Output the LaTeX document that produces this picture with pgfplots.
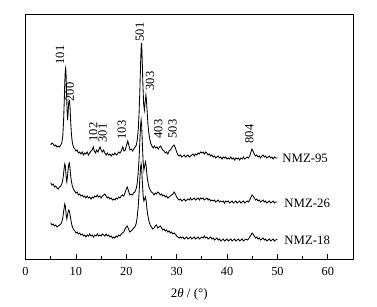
\documentclass[border=0pt]{standalone}
\usepackage{fontspec}
\setmainfont{Liberation Serif}
\usepackage{pgfplots}
\pgfplotsset{compat=1.18}
\usepackage{pgfplotstable}

\pgfplotstableread{
x y
5.0 145
5.25 143
5.5 144
5.75 146
6.0 145
6.25 147
6.5 146
6.75 147
7.0 145
7.2 143
7.4 136
7.55 122
7.7 100
7.8 82
7.9 70
7.97 68
8.05 74
8.15 92
8.25 110
8.35 120
8.45 113
8.55 104
8.65 100
8.75 101
8.85 108
8.95 120
9.1 133
9.25 141
9.4 145
9.6 148
9.8 149
10.0 151
10.25 150
10.5 153
10.75 152
11.0 154
11.25 152
11.5 155
11.75 153
12.0 154
12.25 152
12.5 155
12.75 153
13.0 151
13.25 150
13.45 147
13.65 151
13.9 153
14.15 150
14.4 152
14.6 149
14.8 147
15.0 150
15.25 152
15.5 150
15.75 153
16.0 155
16.25 153
16.5 155
16.75 154
17.0 156
17.25 154
17.5 155
17.75 153
18.0 155
18.25 154
18.5 152
18.75 153
19.0 151
19.3 147
19.55 151
19.8 150
20.05 145
20.3 141
20.5 145
20.75 150
21.0 149
21.25 151
21.5 149
21.75 147
22.0 145
22.2 139
22.4 128
22.55 112
22.7 90
22.85 62
22.95 48
23.05 43
23.15 58
23.3 85
23.45 104
23.6 110
23.75 102
23.9 95
24.0 100
24.15 112
24.3 124
24.5 134
24.7 140
24.9 144
25.1 146
25.35 148
25.6 146
25.85 148
26.1 147
26.35 149
26.6 147
26.85 146
27.0 148
27.25 150
27.5 151
27.75 153
28.0 152
28.25 154
28.5 151
28.75 150
29.0 148
29.25 146
29.5 145
29.75 148
30.0 152
30.25 155
30.5 156
30.75 155
31.0 157
31.25 156
31.5 155
31.75 157
32.0 156
32.25 155
32.5 157
32.75 156
33.0 155
33.25 154
33.5 156
33.75 154
34.0 155
34.25 153
34.5 154
34.75 152
35.0 153
35.25 152
35.5 154
35.75 152
36.0 153
36.25 155
36.5 154
36.75 156
37.0 155
37.25 157
37.5 156
37.75 158
38.0 157
38.25 156
38.5 158
38.75 157
39.0 159
39.25 157
39.5 158
39.75 157
40.0 159
40.25 158
40.5 159
40.75 157
41.0 159
41.25 158
41.5 160
41.75 158
42.0 159
42.25 158
42.5 160
42.75 158
43.0 159
43.25 157
43.5 159
43.75 158
44.0 157
44.25 158
44.5 156
44.75 152
44.95 149
45.15 151
45.4 154
45.65 156
45.9 155
46.15 157
46.4 156
46.65 158
46.9 156
47.15 155
47.4 157
47.65 156
47.9 158
48.15 157
48.4 156
48.65 158
48.9 157
49.15 159
49.4 157
49.65 158
50.0 158
}\nmzA

\pgfplotstableread{
x y
5.0 183
5.25 185
5.5 184
5.75 187
6.0 186
6.25 188
6.5 189
6.75 187
7.0 186
7.2 184
7.4 180
7.55 174
7.7 167
7.8 164
7.9 166
8.0 172
8.1 179
8.2 182
8.3 178
8.45 170
8.6 164
8.7 163
8.8 167
8.95 175
9.1 181
9.3 186
9.5 189
9.75 191
10.0 193
10.25 192
10.5 195
10.75 194
11.0 196
11.25 195
11.5 197
11.75 196
12.0 198
12.25 196
12.5 198
12.75 197
13.0 199
13.25 197
13.5 198
13.75 196
14.0 197
14.25 195
14.5 197
14.75 196
15.0 198
15.25 196
15.5 195
15.75 194
16.0 196
16.25 198
16.5 197
16.75 199
17.0 198
17.25 200
17.5 199
17.75 200
18.0 198
18.25 199
18.5 197
18.75 198
19.0 196
19.25 195
19.5 196
19.75 193
20.0 189
20.2 187
20.45 191
20.7 195
20.95 194
21.2 195
21.45 193
21.7 192
21.95 189
22.15 184
22.35 174
22.55 158
22.7 140
22.85 125
22.95 120
23.05 125
23.2 145
23.35 162
23.5 170
23.65 166
23.8 162
23.95 166
24.1 175
24.3 182
24.5 187
24.75 190
25.0 192
25.25 193
25.5 195
25.75 193
26.0 194
26.25 192
26.5 193
26.75 195
27.0 194
27.25 196
27.5 195
27.75 197
28.0 196
28.25 198
28.5 197
28.75 196
29.0 195
29.25 194
29.5 192
29.75 194
30.0 197
30.25 199
30.5 200
30.75 199
31.0 201
31.25 200
31.5 199
31.75 201
32.0 200
32.25 199
32.5 200
32.75 198
33.0 200
33.25 199
33.5 198
33.75 200
34.0 199
34.25 198
34.5 200
34.75 198
35.0 199
35.25 198
35.5 200
35.75 199
36.0 198
36.25 200
36.5 199
36.75 201
37.0 200
37.25 201
37.5 200
37.75 202
38.0 201
38.25 200
38.5 202
38.75 201
39.0 202
39.25 201
39.5 203
39.75 201
40.0 202
40.25 201
40.5 203
40.75 202
41.0 201
41.25 203
41.5 202
41.75 201
42.0 203
42.25 202
42.5 201
42.75 203
43.0 202
43.25 201
43.5 203
43.75 202
44.0 201
44.25 202
44.5 200
44.75 197
44.95 195
45.15 196
45.4 198
45.65 200
45.9 199
46.15 201
46.4 200
46.65 202
46.9 201
47.15 200
47.4 202
47.65 201
47.9 203
48.15 202
48.4 201
48.65 203
48.9 202
49.15 201
49.4 203
49.65 202
50.0 202
}\nmzB

\pgfplotstableread{
x y
5.0 223
5.25 225
5.5 224
5.75 226
6.0 225
6.25 227
6.5 226
6.75 225
7.0 224
7.2 222
7.4 218
7.55 212
7.7 207
7.8 204
7.9 206
8.0 211
8.1 216
8.2 219
8.3 216
8.45 212
8.6 210
8.7 211
8.85 215
9.0 220
9.2 225
9.4 228
9.6 230
9.8 231
10.0 233
10.25 232
10.5 234
10.75 233
11.0 235
11.25 234
11.5 236
11.75 235
12.0 237
12.25 235
12.5 236
12.75 234
13.0 236
13.25 235
13.5 237
13.75 235
14.0 236
14.25 234
14.5 236
14.75 235
15.0 236
15.25 234
15.5 235
15.75 236
16.0 234
16.25 236
16.5 235
16.75 237
17.0 236
17.25 238
17.5 237
17.75 238
18.0 236
18.25 237
18.5 235
18.75 236
19.0 234
19.25 233
19.5 232
19.75 229
20.0 227
20.2 226
20.45 229
20.7 232
20.95 231
21.2 230
21.45 228
21.7 227
21.95 224
22.15 218
22.35 208
22.55 192
22.7 178
22.85 167
22.95 164
23.05 168
23.2 183
23.35 196
23.5 201
23.65 199
23.8 197
23.95 201
24.1 209
24.3 216
24.5 221
24.75 225
25.0 227
25.25 229
25.5 228
25.75 226
26.0 225
26.25 228
26.5 227
26.75 226
27.0 228
27.25 230
27.5 229
27.75 231
28.0 230
28.25 232
28.5 231
28.75 233
29.0 232
29.25 234
29.5 233
29.75 234
30.0 236
30.25 237
30.5 238
30.75 237
31.0 238
31.25 237
31.5 239
31.75 238
32.0 237
32.25 239
32.5 238
32.75 237
33.0 239
33.25 238
33.5 237
33.75 239
34.0 238
34.25 237
34.5 239
34.75 238
35.0 237
35.25 238
35.5 236
35.75 238
36.0 237
36.25 239
36.5 238
36.75 237
37.0 239
37.25 238
37.5 240
37.75 239
38.0 238
38.25 240
38.5 239
38.75 241
39.0 240
39.25 239
39.5 241
39.75 240
40.0 239
40.25 241
40.5 240
40.75 239
41.0 241
41.25 240
41.5 239
41.75 241
42.0 240
42.25 239
42.5 241
42.75 240
43.0 239
43.25 241
43.5 240
43.75 239
44.0 240
44.25 239
44.5 237
44.75 235
44.95 233
45.15 234
45.4 236
45.65 238
45.9 237
46.15 239
46.4 238
46.65 240
46.9 239
47.15 238
47.4 240
47.65 239
47.9 241
48.15 240
48.4 239
48.65 241
48.9 240
49.15 239
49.4 241
49.65 240
50.0 239
}\nmzC

\begin{document}
\begin{tikzpicture}
\path[use as bounding box] (-25.5pt,-48pt) rectangle (351.5pt,245pt+14pt);
\begin{axis}[
  at={(0,0)}, anchor=south west,
  scale only axis,
  width=327.5pt, height=245pt,
  xmin=0, xmax=65,
  ymin=14, ymax=259,
  y dir=reverse,
  ytick=\empty,
  xtick={0,10,20,30,40,50,60},
  minor x tick num=1,
  xtick pos=bottom,
  tick align=inside,
  major tick length=5pt,
  minor tick length=3pt,
  axis line style={line width=0.9pt},
  every tick/.style={line width=0.7pt, black},
  /pgf/number format/assume math mode=true,
  tick label style={font=\fontsize{12.3}{13}\selectfont},
  xticklabel style={yshift=-5pt},
  xlabel={2\textit{θ} / (°)},
  xlabel style={font=\fontsize{13}{14}\selectfont, yshift=-6pt},
  clip=false,
]
\addplot[black, line width=0.85pt] table[x=x,y=y] {\nmzA};
\addplot[black, line width=0.85pt] table[x=x,y=y] {\nmzB};
\addplot[black, line width=0.85pt] table[x=x,y=y] {\nmzC};

\begin{scope}[every node/.style={font=\fontsize{12.5}{13}\selectfont, rotate=90, inner sep=0pt}]
\node at (axis cs:6.85,55) {101};
\node at (axis cs:8.8,92) {200};
\node at (axis cs:13.45,132) {102};
\node at (axis cs:15.3,133) {301};
\node at (axis cs:19.1,130) {103};
\node at (axis cs:22.7,32) {501};
\node at (axis cs:24.7,81) {303};
\node at (axis cs:26.35,129) {403};
\node at (axis cs:29.2,129) {503};
\node at (axis cs:44.4,134) {804};
\end{scope}
\begin{scope}[every node/.style={font=\fontsize{12.8}{13}\selectfont, inner sep=0pt}]
\node at (axis cs:55.5,158) {NMZ-95};
\node at (axis cs:55.9,203) {NMZ-26};
\node at (axis cs:55.9,240) {NMZ-18};
\end{scope}
\end{axis}
\end{tikzpicture}
\end{document}
